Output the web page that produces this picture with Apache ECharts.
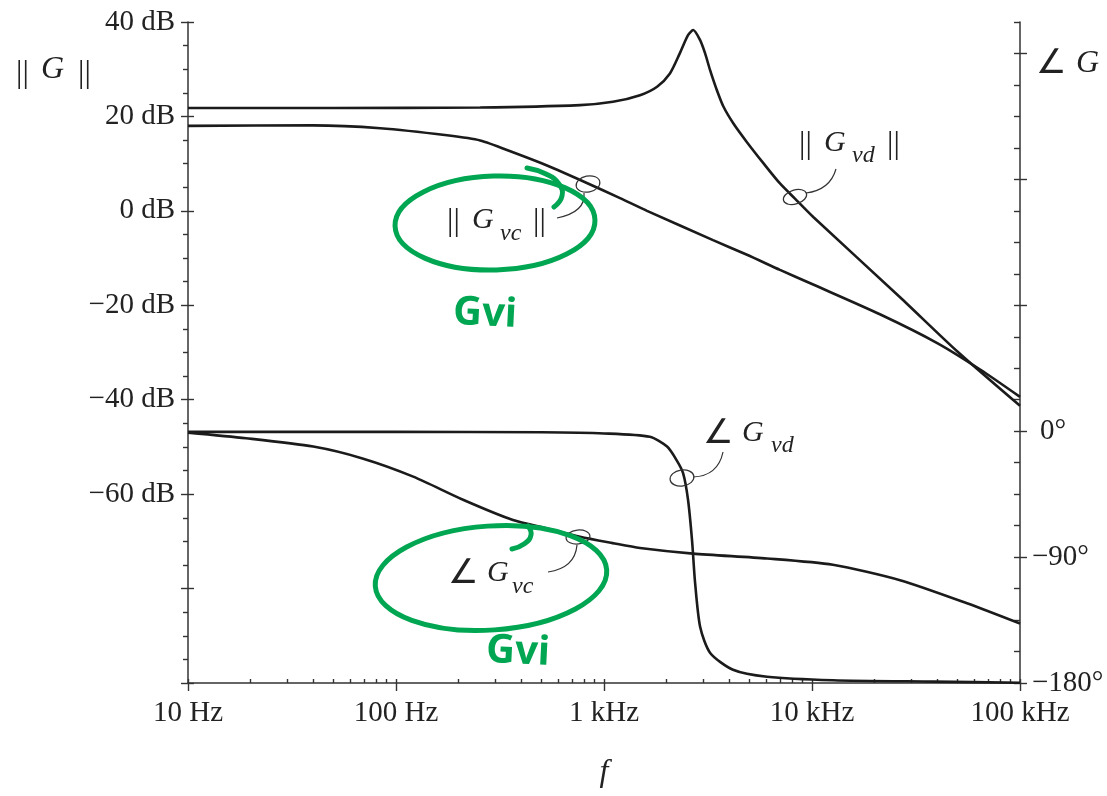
<!DOCTYPE html>
<html>
<head>
<meta charset="utf-8">
<script src="https://cdn.jsdelivr.net/npm/echarts@6/dist/echarts.min.js"></script>
<style>
html, body { margin: 0; padding: 0; background: #fff; }
#bode { width: 1107px; height: 796px; }
</style>
</head>
<body>
<div id="bode"></div>
<script>
// tick labels
var freqTickLabels = ['10 Hz', '100 Hz', '1 kHz', '10 kHz', '100 kHz'];
var dbTickValues = [-100, -80, -60, -40, -20, 0, 20, 40];
var dbTickLabels = ['', '', '\u221260 dB', '\u221240 dB', '\u221220 dB', '0 dB', '20 dB', '40 dB'];
var phaseTickValues = [-180, -90, 0, 90, 180, 270];
var phaseTickLabels = ['\u2212180\u00b0', '\u221290\u00b0', '{p|0\u00b0}', '', '', ''];
var decades = [10, 100, 1000, 10000, 100000];
var minorSteps = [2, 3, 4, 5, 6, 7, 8, 9];

// ||Gvd|| (dB)
var freqGvdMag = [10, 50, 254, 767, 1104, 1489, 1800, 2075, 2317, 2535, 2685, 2894, 3060, 3236, 3486, 3750, 4190, 4857, 5837, 7015, 8280, 10140, 26500, 50000, 100000];
var magGvd = [21.8, 21.8, 21.9, 22.4, 23.1, 24.5, 26.3, 29.1, 33.4, 37.2, 38.3, 36.2, 33.4, 29.8, 25.6, 22.1, 18.5, 14.6, 10.1, 5.8, 2.6, -1.3, -18.3, -29.8, -41.3];

// ||Gvc|| (dB)
var freqGvcMag = [10, 40, 84, 176, 254, 365, 532, 837, 1194, 1610, 3343, 4870, 7015, 10000, 21200, 40000, 64300, 100000];
var magGvc = [18.0, 18.1, 17.5, 16.0, 14.9, 12.4, 9.6, 5.8, 2.7, 0.0, -6.2, -9.3, -12.5, -15.5, -21.9, -28.0, -33.6, -39.4];

// angle Gvd (deg)
var freqGvdPh = [10, 100, 500, 1000, 1660, 2010, 2240, 2400, 2535, 2650, 2740, 2900, 3240, 4170, 6080, 12600, 38200, 100000];
var phaseGvd = [-0.5, -0.5, -0.8, -1.6, -4, -11, -21, -30, -49, -78, -108, -140, -158.5, -170.5, -175.5, -178, -179, -179.8];

// angle Gvc (deg)
var freqGvcPh = [10, 19, 40, 69, 121, 210, 365, 532, 767, 1100, 1490, 2680, 6080, 12600, 26500, 55600, 100000];
var phaseGvc = [-1, -5, -11, -19.5, -32.5, -49, -63.5, -69.5, -75.5, -80, -83.5, -87.5, -91, -95.5, -106.5, -123, -137.5];

var serif = '"Liberation Serif", "Times New Roman", "DejaVu Serif", serif';
var ink = '#222';
var axisColor = '#333';
var curveColor = '#1b1b1b';
var green = '#00a651';

function pairs(fs, vs) {
    return fs.map(function (f, i) { return [f, vs[i]]; });
}

var minorFreqs = [];
decades.forEach(function (d) {
    if (d < 100000) {
        minorSteps.forEach(function (m) { minorFreqs.push(d * m); });
    }
    minorFreqs.push(d);
});

function curve(name, data, yIndex) {
    return {
        name: name,
        type: 'line',
        yAxisIndex: yIndex,
        data: data,
        symbol: 'none',
        smooth: 0.25,
        lineStyle: { color: curveColor, width: 2.6 },
        silent: true
    };
}

function txt(x, y, s, size, italic, family) {
    return {
        type: 'text', x: x, y: y, z: 10,
        style: {
            text: s,
            font: (italic ? 'italic ' : '') + size + 'px ' + (family || serif),
            fill: ink, align: 'left', verticalAlign: 'middle'
        }
    };
}

function ring(cx, cy, rx, ry, rot, color, w) {
    return {
        type: 'ellipse', x: cx, y: cy, rotation: rot, z: 10,
        shape: { cx: 0, cy: 0, rx: rx, ry: ry },
        style: { fill: 'none', stroke: color, lineWidth: w }
    };
}

function leader(x1, y1, cx, cy, x2, y2) {
    return {
        type: 'bezierCurve', z: 10,
        shape: { x1: x1, y1: y1, cpx1: cx, cpy1: cy, x2: x2, y2: y2 },
        style: { fill: 'none', stroke: axisColor, lineWidth: 1.2 }
    };
}

function scribble(pts) {
    return {
        type: 'polyline', z: 11,
        shape: { points: pts, smooth: 0.5 },
        style: { fill: 'none', stroke: green, lineWidth: 5, lineCap: 'round' }
    };
}

var dom = document.getElementById('bode');
var myChart = echarts.init(dom);
var tickStyle = { color: axisColor, width: 1.4 };
var angleFont = '"DejaVu Sans", sans-serif';

var option = {
    animation: false,
    backgroundColor: '#fff',
    grid: { left: 188, right: 87, top: 22, bottom: 113, containLabel: false },
    xAxis: [
        {
            type: 'log', logBase: 10, min: 10, max: 100000, position: 'bottom',
            axisLine: { show: true, onZero: false, lineStyle: { color: axisColor, width: 1.5 } },
            axisTick: { show: true, length: 8, lineStyle: tickStyle },
            splitLine: { show: false },
            axisLabel: {
                color: ink, fontFamily: serif, fontSize: 29, margin: 16,
                formatter: function (v) {
                    return freqTickLabels[Math.round(Math.log10(v)) - 1] || '';
                }
            },
            name: 'f', nameLocation: 'middle', nameGap: 74,
            nameTextStyle: { color: ink, fontFamily: serif, fontStyle: 'italic', fontSize: 32 }
        },
        {
            type: 'log', logBase: 10, min: 10, max: 100000, position: 'bottom',
            axisLine: { show: false, onZero: false },
            axisTick: { show: true, inside: true, length: 4, customValues: minorFreqs, lineStyle: tickStyle },
            axisLabel: { show: false },
            splitLine: { show: false }
        }
    ],
    yAxis: [
        {
            type: 'value', position: 'left', min: -100, max: 40, interval: 20,
            axisLine: { show: true, onZero: false, lineStyle: { color: axisColor, width: 1.5 } },
            axisTick: { show: true, length: 7, lineStyle: tickStyle },
            minorTick: { show: true, splitNumber: 4, length: 5, lineStyle: tickStyle },
            splitLine: { show: false },
            axisLabel: {
                color: ink, fontFamily: serif, fontSize: 29, margin: 13,
                formatter: function (v) {
                    var i = dbTickValues.indexOf(v);
                    return i < 0 ? '' : dbTickLabels[i];
                }
            }
        },
        {
            type: 'value', position: 'right', min: -180, max: 292.5, interval: 90,
            axisLine: { show: true, onZero: false, lineStyle: { color: axisColor, width: 1.5 } },
            axisTick: { show: true, length: 7, customValues: phaseTickValues, lineStyle: tickStyle },
            splitLine: { show: false },
            axisLabel: {
                color: ink, fontFamily: serif, fontSize: 29, margin: 12,
                customValues: [-180, -90, 0],
                rich: { p: { color: ink, fontFamily: serif, fontSize: 29, padding: [0, 0, 0, 8] } },
                formatter: function (v) {
                    var i = phaseTickValues.indexOf(v);
                    return i < 0 ? '' : phaseTickLabels[i];
                }
            }
        },
        {
            type: 'value', position: 'right', min: -180, max: 292.5, interval: 22.5,
            axisLine: { show: false, onZero: false },
            axisTick: { show: true, inside: true, length: 6, lineStyle: tickStyle },
            axisLabel: { show: false },
            splitLine: { show: false }
        },
        {
            type: 'value', position: 'left', min: -100, max: 40, interval: 20,
            axisLine: { show: false, onZero: false },
            axisTick: { show: true, inside: true, length: 6, lineStyle: tickStyle },
            axisLabel: { show: false },
            splitLine: { show: false }
        }
    ],
    series: [
        curve('||Gvd||', pairs(freqGvdMag, magGvd), 0),
        curve('||Gvc||', pairs(freqGvcMag, magGvc), 0),
        curve('∠Gvd', pairs(freqGvdPh, phaseGvd), 1),
        curve('∠Gvc', pairs(freqGvcPh, phaseGvc), 1)
    ],
    graphic: [
        // axis titles
        txt(16, 74, '||', 32, false),
        txt(41, 70, 'G', 32, true),
        txt(78, 74, '||', 32, false),
        txt(1036, 64, '\u2220', 34, false, angleFont),
        txt(1076, 64, 'G', 32, true),

        // ||Gvd||
        txt(799, 145, '||', 32, false),
        txt(824, 143, 'G', 30, true),
        txt(852, 156, 'vd', 24, true),
        txt(887, 145, '||', 32, false),
        ring(795, 197, 12, 7, 0.3, axisColor, 1.2),
        leader(806, 193, 830, 190, 836, 169),

        // ||Gvc||
        txt(447, 222, '||', 32, false),
        txt(472, 220, 'G', 30, true),
        txt(500, 234, 'vc', 24, true),
        txt(533, 222, '||', 32, false),
        ring(588, 184, 12, 8, 0.2, axisColor, 1.2),
        leader(584, 193, 586, 212, 557, 218),

        // angle Gvd
        txt(703, 434, '\u2220', 34, false, angleFont),
        txt(742, 433, 'G', 30, true),
        txt(771, 446, 'vd', 24, true),
        ring(682, 478, 12, 8, 0.15, axisColor, 1.2),
        leader(693, 477, 718, 476, 723, 452),

        // angle Gvc
        txt(448, 574, '\u2220', 34, false, angleFont),
        txt(487, 573, 'G', 30, true),
        txt(512, 587, 'vc', 24, true),
        ring(578, 537, 12, 7, 0.1, axisColor, 1.2),
        leader(577, 545, 575, 568, 548, 572),

        // green hand annotations
        ring(495, 223, 100, 47, 0.03, green, 5),
        scribble([[527, 168], [546, 174], [559, 184], [562, 196], [554, 207]]),
        ring(491, 578, 116, 52, 0.07, green, 5),
        scribble([[512, 549], [524, 544], [531, 535], [528, 526]]),
        {
            type: 'text', x: 485, y: 314, z: 11, rotation: -0.05,
            style: { text: 'Gvi', font: 'bold 40px "Noto Sans", sans-serif', fill: green, align: 'center', verticalAlign: 'middle' }
        },
        {
            type: 'text', x: 518, y: 652, z: 11, rotation: -0.05,
            style: { text: 'Gvi', font: 'bold 40px "Noto Sans", sans-serif', fill: green, align: 'center', verticalAlign: 'middle' }
        }
    ]
};

if (option && typeof option === 'object') {
    myChart.setOption(option, true);
}
</script>
</body>
</html>
